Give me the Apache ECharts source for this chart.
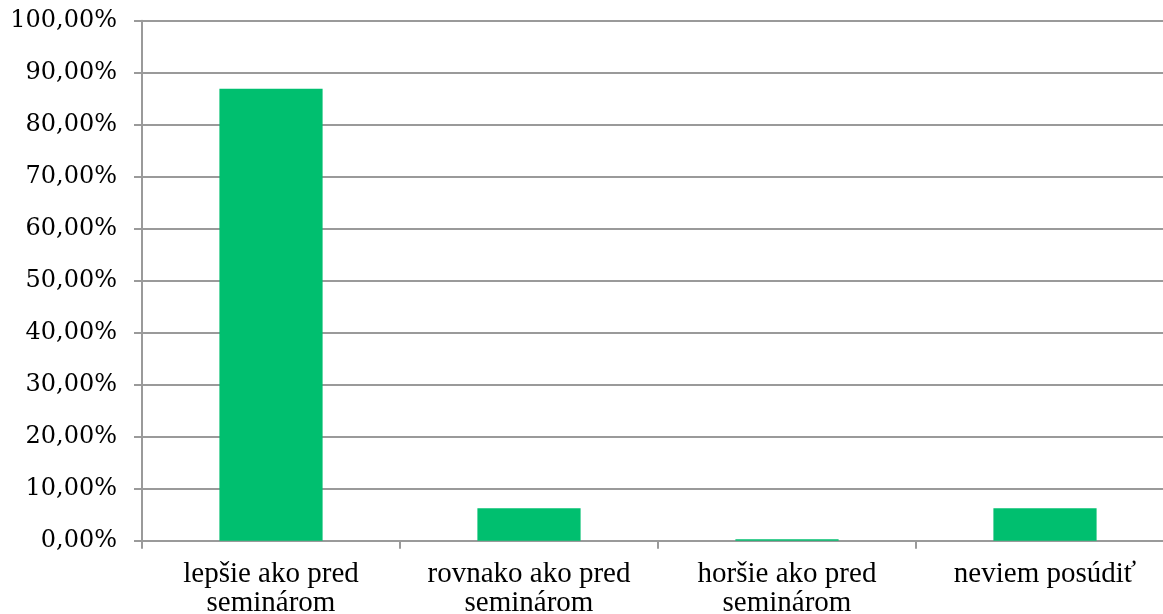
<!DOCTYPE html>
<html>
<head>
<meta charset="utf-8">
<script src="https://cdn.jsdelivr.net/npm/echarts@6/dist/echarts.min.js"></script>
<style>html,body{margin:0;padding:0;background:#fff;}#c{width:1163px;height:614px;}</style>
</head>
<body>
<div id="c"></div>
<script>
const categories = ['lepšie ako pred\nseminárom', 'rovnako ako pred\nseminárom', 'horšie ako pred\nseminárom', 'neviem posúdiť'];
const values = [86.9, 6.25, 0.3, 6.25];
const yTicks = { min: 0, max: 100, interval: 10 };

const chart = echarts.init(document.getElementById('c'), null, { renderer: 'canvas' });
chart.setOption({
  animation: false,
  grid: { left: 142, width: 1032, top: 20.7, height: 520, containLabel: false, outerBoundsMode: 'none' },
  xAxis: {
    type: 'category',
    data: categories,
    axisLine: { show: true, lineStyle: { color: '#9a9a9a', width: 2 } },
    axisTick: { show: true, length: 8, lineStyle: { color: '#9a9a9a', width: 2 } },
    axisLabel: {
      interval: 0,
      margin: 19,
      color: '#000',
      fontFamily: 'Liberation Serif',
      fontSize: 29,
      lineHeight: 29
    }
  },
  yAxis: {
    type: 'value',
    min: yTicks.min, max: yTicks.max, interval: yTicks.interval,
    axisLine: { show: true, lineStyle: { color: '#9a9a9a', width: 2 } },
    axisTick: { show: true, length: 8, lineStyle: { color: '#9a9a9a', width: 2 } },
    splitLine: { show: true, lineStyle: { color: '#9a9a9a', width: 2 } },
    axisLabel: {
      margin: 25,
      color: '#000',
      fontFamily: 'DejaVu Serif',
      fontSize: 24,
      formatter: v => v.toFixed(2).replace('.', ',') + '%'
    }
  },
  series: [{
    type: 'bar',
    data: values,
    barWidth: '40%',
    itemStyle: { color: '#00BF6F' }
  }]
});
</script>
</body>
</html>
